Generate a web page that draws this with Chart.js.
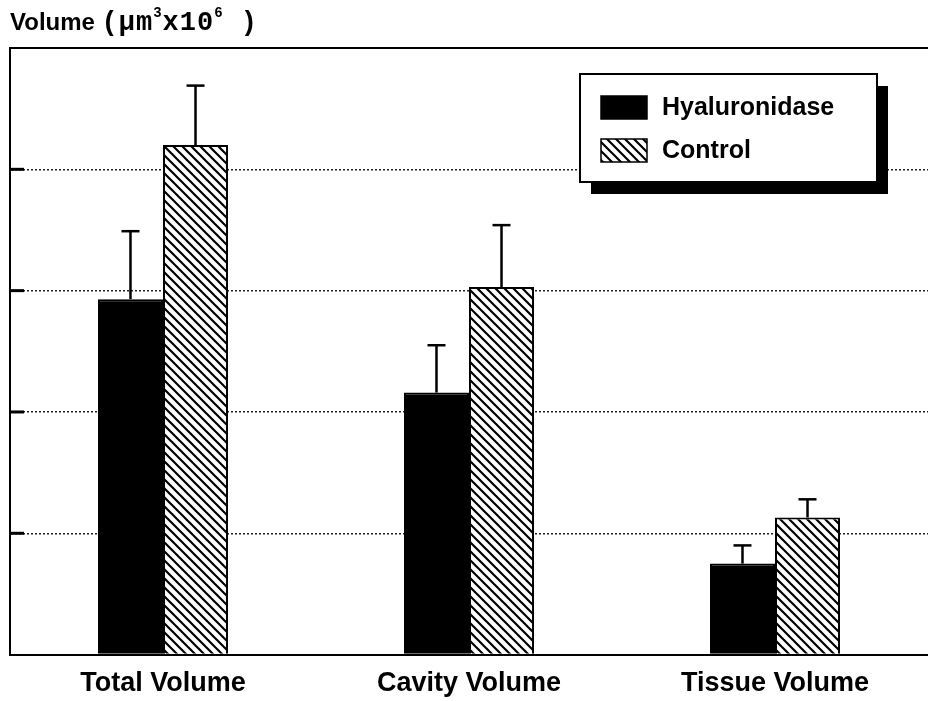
<!DOCTYPE html>
<html>
<head>
<meta charset="utf-8">
<script src="https://cdn.jsdelivr.net/npm/chart.js@4/dist/chart.umd.min.js"></script>
<style>
    body { margin: 0; background: #fff; overflow: hidden; }
    .wrap { position: relative; width: 928px; height: 701px; overflow: hidden; }
    .y-title { position: absolute; left: 10px; top: 8px; font-family: "Liberation Sans", Arial, sans-serif; font-weight: bold; font-size: 24px; color: #000; white-space: nowrap; }
    .y-title .unit { font-family: "Liberation Mono", "Courier New", monospace; font-size: 27px; letter-spacing: 1px; }
    .y-title sup { font-size: 14px; position: relative; top: -3px; }
</style>
</head>
<body>
<div class="wrap">
    <div class="y-title">Volume <span class="unit">(µm<sup>3</sup>x10<sup>6</sup> )</span></div>
    <canvas id="myChart" width="928" height="713"></canvas>
</div>
<script>
// values, in grid units (gridlines = 1 unit)
const categories = ['Total Volume', 'Cavity Volume', 'Tissue Volume'];
const hyaluronidase = [2.93, 2.16, 0.75];
const hyaluronidaseErr = [0.56, 0.39, 0.15];
const control = [4.20, 3.03, 1.13];
const controlErr = [0.49, 0.51, 0.15];
const yMax = 5;
const yStep = 1;

const hatchPattern = () => {
    var size = 9;
    var c = document.createElement('canvas');
    c.width = size;
    c.height = size;
    var ctx = c.getContext('2d');
    ctx.fillStyle = '#fff';
    ctx.fillRect(0, 0, size, size);
    ctx.strokeStyle = '#000';
    ctx.lineWidth = 2.2;
    ctx.beginPath();
    ctx.moveTo(-2, -2); ctx.lineTo(size + 2, size + 2);
    ctx.moveTo(-size - 2, -2); ctx.lineTo(2, size + 2);
    ctx.moveTo(size - 2, -2); ctx.lineTo(2 * size + 2, size + 2);
    ctx.stroke();
    return c;
}

const hatch = document.getElementById('myChart').getContext('2d').createPattern(hatchPattern(), 'repeat');

// error bars, top frame and little solid ticks on the left
const errorBars = {
    id: 'errorBars',
    afterDatasetsDraw(chart) {
        var ctx = chart.ctx;
        var y = chart.scales.y;
        var area = chart.chartArea;
        var errs = [hyaluronidaseErr, controlErr];
        ctx.save();
        ctx.strokeStyle = '#000';
        chart.data.datasets.forEach(function (ds, i) {
            var meta = chart.getDatasetMeta(i);
            meta.data.forEach(function (bar, j) {
                var top = y.getPixelForValue(ds.data[j] + errs[i][j]);
                ctx.lineWidth = 2.5;
                ctx.beginPath();
                ctx.moveTo(bar.x, bar.y);
                ctx.lineTo(bar.x, top);
                ctx.stroke();
                ctx.beginPath();
                ctx.moveTo(bar.x - 9, top);
                ctx.lineTo(bar.x + 9, top);
                ctx.stroke();
            });
        });
        ctx.lineWidth = 2;
        ctx.beginPath();
        ctx.moveTo(area.left - 1, area.top);
        ctx.lineTo(area.right, area.top);
        ctx.stroke();
        ctx.lineWidth = 3;
        for (var v = yStep; v < yMax; v += yStep) {
            var py = y.getPixelForValue(v);
            ctx.beginPath();
            ctx.moveTo(area.left, py);
            ctx.lineTo(area.left + 14, py);
            ctx.stroke();
        }
        ctx.restore();
    }
}

const boxLegend = {
    id: 'boxLegend',
    afterDraw(chart) {
        var ctx = chart.ctx;
        var x = 580, y = 74, w = 297, h = 108;
        ctx.save();
        ctx.fillStyle = '#000';
        ctx.fillRect(x + 11, y + 12, w, h);
        ctx.fillStyle = '#fff';
        ctx.fillRect(x, y, w, h);
        ctx.strokeStyle = '#000';
        ctx.lineWidth = 2;
        ctx.strokeRect(x, y, w, h);
        chart.data.datasets.forEach(function (ds, i) {
            var sy = y + 22 + i * 43;
            ctx.fillStyle = ds.backgroundColor;
            ctx.fillRect(x + 21, sy, 46, 23);
            ctx.lineWidth = 1.5;
            ctx.strokeRect(x + 21, sy, 46, 23);
            ctx.fillStyle = '#000';
            ctx.font = 'bold 25px "Liberation Sans", Arial, sans-serif';
            ctx.textBaseline = 'middle';
            ctx.fillText(ds.label, x + 82, sy + 12);
        });
        ctx.restore();
    }
}

new Chart('myChart', {
    type: 'bar',
    data: {
        labels: categories,
        datasets: [{
            label: 'Hyaluronidase',
            data: hyaluronidase,
            backgroundColor: '#000',
            borderColor: '#000',
            borderWidth: 2
        }, {
            label: 'Control',
            data: control,
            backgroundColor: hatch,
            borderColor: '#000',
            borderWidth: 2
        }]
    },
    options: {
        responsive: false,
        animation: false,
        categoryPercentage: 0.425,
        barPercentage: 1,
        layout: { padding: { top: 48, left: 10, right: 0, bottom: 0 } },
        plugins: {
            legend: { display: false },
            title: { display: false },
            tooltip: { enabled: false }
        },
        scales: {
            x: {
                grid: { display: false, drawTicks: false },
                border: { display: true, color: '#000', width: 2 },
                ticks: {
                    color: '#000',
                    padding: 13,
                    font: { family: '"Liberation Sans", Arial, sans-serif', weight: 'bold', size: 27 }
                }
            },
            y: {
                min: 0,
                max: yMax,
                ticks: { display: false, stepSize: yStep },
                grid: { color: '#222', lineWidth: 1.5, drawTicks: false },
                border: { display: true, color: '#000', width: 2, dash: [2, 2] }
            }
        }
    },
    plugins: [errorBars, boxLegend]
});
</script>
</body>
</html>
